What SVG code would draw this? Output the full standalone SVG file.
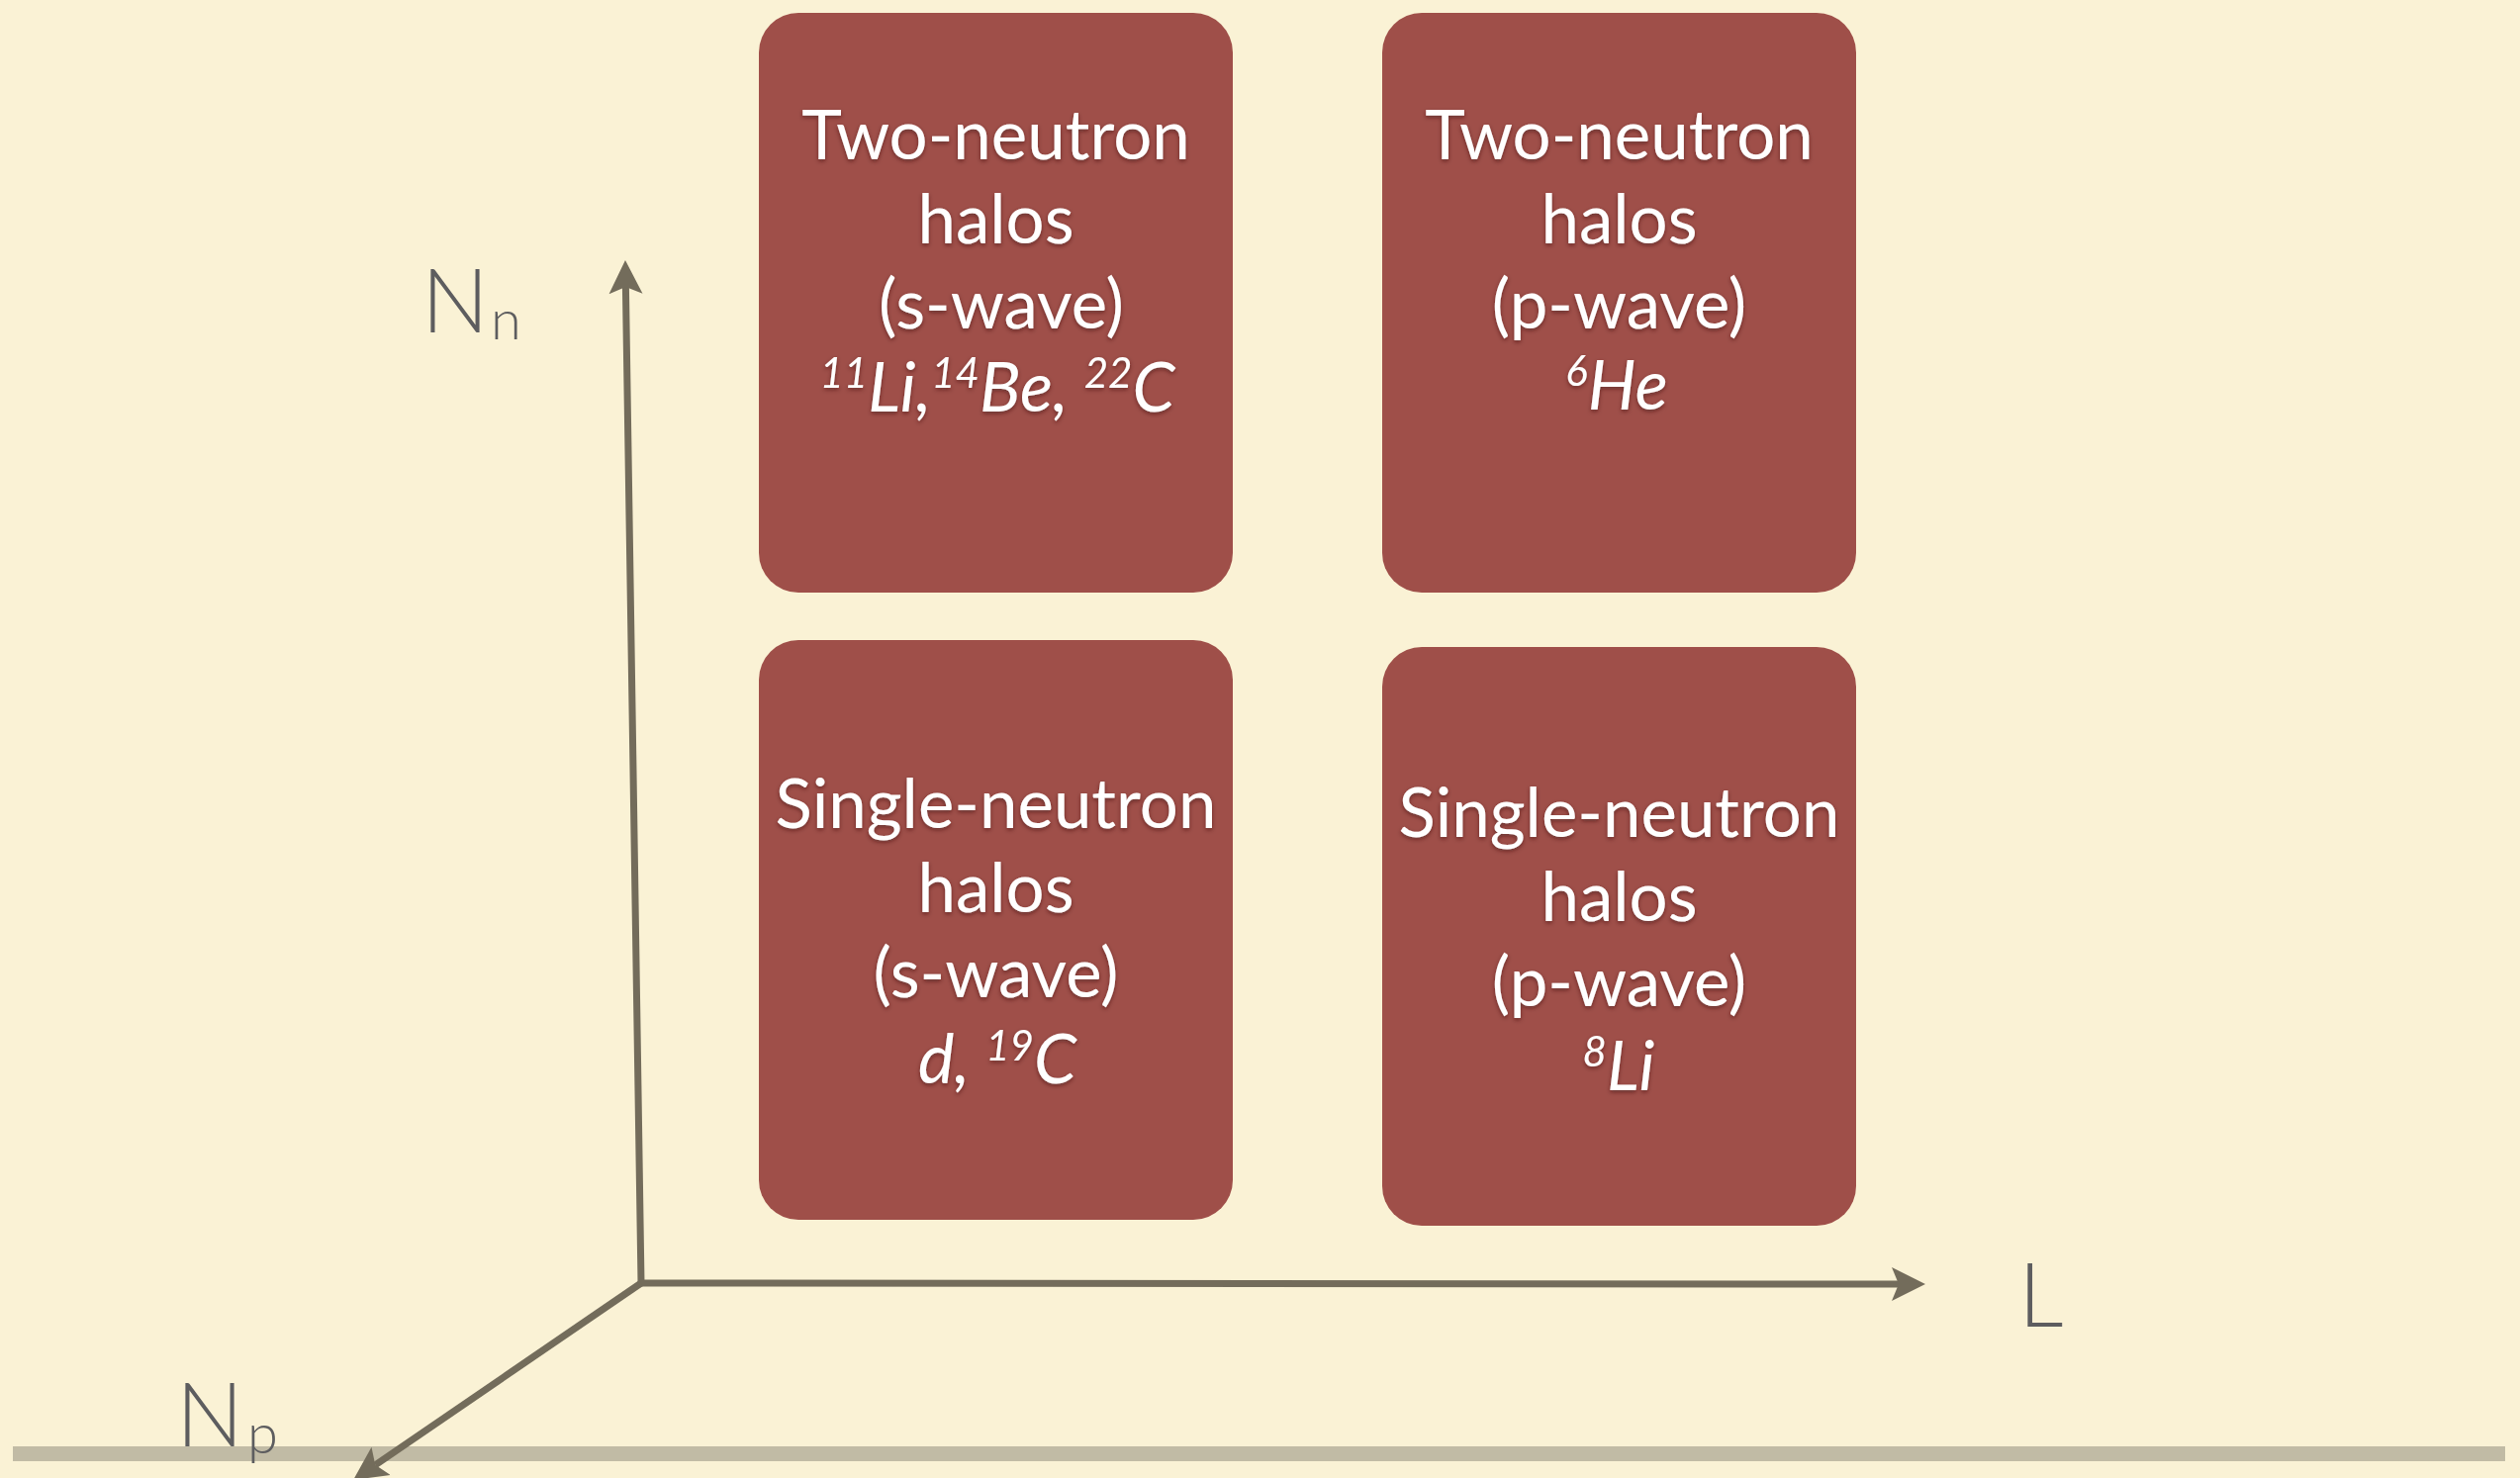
<svg xmlns="http://www.w3.org/2000/svg" width="2547" height="1494" viewBox="0 0 2547 1494">
<defs>
<style>
.box{fill:#9f4f49;}
.lbl{font-family:Lato,"Noto Sans","Liberation Sans",sans-serif;font-size:69px;fill:#ffffff;text-anchor:middle;filter:url(#ts);}
.it{font-style:italic;}
.sup{font-size:42px;}
.ax{fill:none;stroke:#736c5b;stroke-width:7;stroke-linejoin:miter;}
.axl{font-family:Lato,"Noto Sans","Liberation Sans",sans-serif;font-weight:300;font-size:90px;fill:#5d5d5f;}
.sub{font-size:56px;}
</style>
<filter id="ts" x="-10%" y="-20%" width="120%" height="150%">
<feDropShadow dx="0" dy="2" stdDeviation="2" flood-color="#3a1010" flood-opacity="0.55"/>
</filter>
<marker id="ah" viewBox="0 0 36 36" refX="7" refY="18" markerWidth="36" markerHeight="36" markerUnits="userSpaceOnUse" orient="auto-start-reverse">
<path d="M0,1 L34,18 L0,35 L7,18 z" fill="#736c5b"/>
</marker>
</defs>
<rect x="0" y="0" width="2547" height="1494" fill="#faf2d5"/>
<rect x="13" y="1462" width="2519" height="15" fill="#c1bba5"/>

<g id="connectors">
<path class="ax" d="M632.4,290 L648,1297 L1919,1298" marker-start="url(#ah)" marker-end="url(#ah)"/>
<path class="ax" d="M648,1297 L379.3,1480.8" marker-end="url(#ah)"/>
</g>

<g id="axis-Nn">
<text class="axl" x="426" y="336">N<tspan class="sub" dx="2" dy="7">n</tspan></text>
</g>
<g id="axis-L">
<text class="axl" x="2040" y="1341">L</text>
</g>
<g id="axis-Np">
<text class="axl" x="178" y="1462">N<tspan class="sub" dx="4" dy="7">p</tspan></text>
</g>

<g id="node-two-s">
<rect class="box" x="767" y="13" width="479" height="586" rx="40" ry="40"/>
<text class="lbl" x="1006.5" y="161">Two-neutron</text>
<text class="lbl" x="1006.5" y="246">halos</text>
<text class="lbl" x="1012" y="332">(s-wave)</text>
<text class="lbl it" x="1008" y="416"><tspan class="sup" dy="-24">11</tspan><tspan dy="24">Li,</tspan><tspan class="sup" dy="-24">14</tspan><tspan dy="24">Be, </tspan><tspan class="sup" dy="-24">22</tspan><tspan dy="24">C</tspan></text>
</g>

<g id="node-two-p">
<rect class="box" x="1397" y="13" width="479" height="586" rx="40" ry="40"/>
<text class="lbl" x="1636.5" y="161">Two-neutron</text>
<text class="lbl" x="1636.5" y="246">halos</text>
<text class="lbl" x="1636.5" y="332">(p-wave)</text>
<text class="lbl it" x="1634" y="414"><tspan class="sup" dy="-24">6</tspan><tspan dy="24">He</tspan></text>
</g>

<g id="node-single-s">
<rect class="box" x="767" y="647" width="479" height="586" rx="40" ry="40"/>
<text class="lbl" x="1006.5" y="837">Single-neutron</text>
<text class="lbl" x="1006.5" y="922">halos</text>
<text class="lbl" x="1006.5" y="1008">(s-wave)</text>
<text class="lbl it" x="1008" y="1095">d, <tspan class="sup" dy="-23">19</tspan><tspan dy="23">C</tspan></text>
</g>

<g id="node-single-p">
<rect class="box" x="1397" y="654" width="479" height="585" rx="40" ry="40"/>
<text class="lbl" x="1636.5" y="846">Single-neutron</text>
<text class="lbl" x="1636.5" y="931">halos</text>
<text class="lbl" x="1636.5" y="1017">(p-wave)</text>
<text class="lbl it" x="1636" y="1102"><tspan class="sup" dy="-24">8</tspan><tspan dy="24">Li</tspan></text>
</g>
</svg>
